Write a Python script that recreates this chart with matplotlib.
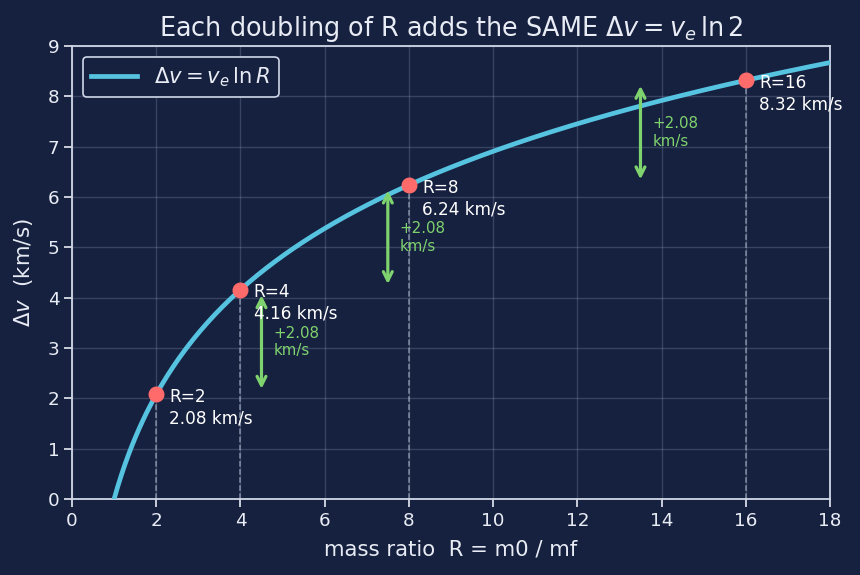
import numpy as np
import matplotlib
matplotlib.use("Agg")
import matplotlib.pyplot as plt

# data
ve = 3.0  # km/s, exhaust velocity (3.0*ln2 = 2.08)
r_marks = [2, 4, 8, 16]
dv_marks = [2.08, 4.16, 6.24, 8.32]
arrow_x = [4.5, 7.5, 13.5]
step_label = "+2.08\nkm/s"

bg = "#16203f"
fg = "#e8ecf4"

fig = plt.figure(figsize=(8.6, 5.75), dpi=100, facecolor=bg)
ax = fig.add_axes([0.0837, 0.132, 0.8814, 0.788], facecolor=bg)

R = np.linspace(1, 18, 400)
ax.plot(R, ve * np.log(R), color="#56c3e0", lw=3.4, label=r"$\Delta v = v_e\,\ln R$", zorder=3)

for r, dv in zip(r_marks, dv_marks):
    ax.plot([r, r], [0, dv], ls="--", color="#aab4c8", lw=1.1, alpha=0.7, zorder=2)
    ax.plot(r, dv, "o", color="#ff6b6b", ms=10.5, zorder=4)
    ax.annotate("R=%d\n%.2f km/s" % (r, dv), (r, dv), xytext=(9.5, 4.5),
                textcoords="offset points", ha="left", va="top",
                fontsize=12.2, color="white", linespacing=1.25, zorder=5)

for i, x in enumerate(arrow_x):
    lo, hi = dv_marks[i], dv_marks[i + 1]
    ax.annotate("", xy=(x, hi), xytext=(x, lo),
                arrowprops=dict(arrowstyle="<->", color="#7fd36e", lw=2.3,
                                shrinkA=4, shrinkB=4, mutation_scale=16), zorder=4)
    ax.text(x + 0.28, (lo + hi) / 2, step_label, color="#7fd36e", fontsize=10.8,
            ha="left", va="center", linespacing=1.2, zorder=5)

ax.set_xlim(0, 18)
ax.set_ylim(0, 9)
ax.set_xticks(range(0, 19, 2))
ax.set_yticks(range(0, 10))
ax.grid(True, color="#8a96b4", alpha=0.3, lw=1.0)
ax.set_axisbelow(True)
for s in ax.spines.values():
    s.set_color("#d0d8e8")
    s.set_linewidth(1.3)
ax.tick_params(colors=fg, labelsize=13.2, length=5.5, width=1.2)

ax.set_xlabel("mass ratio  R = m0 / mf", color=fg, fontsize=15.3, labelpad=7)
ax.set_ylabel(r"$\Delta v$  (km/s)", color=fg, fontsize=15.3, labelpad=9)
ax.set_title(r"Each doubling of R adds the SAME $\Delta v = v_e\,\ln 2$", color=fg, fontsize=18.4, pad=7)

leg = ax.legend(loc="upper left", fontsize=15.2, facecolor=bg, edgecolor="#d0d8e8",
                framealpha=1, handlelength=2.2)
leg.get_frame().set_linewidth(1.2)
for t in leg.get_texts():
    t.set_color(fg)

fig.savefig("out.png", dpi=100, facecolor=bg)
